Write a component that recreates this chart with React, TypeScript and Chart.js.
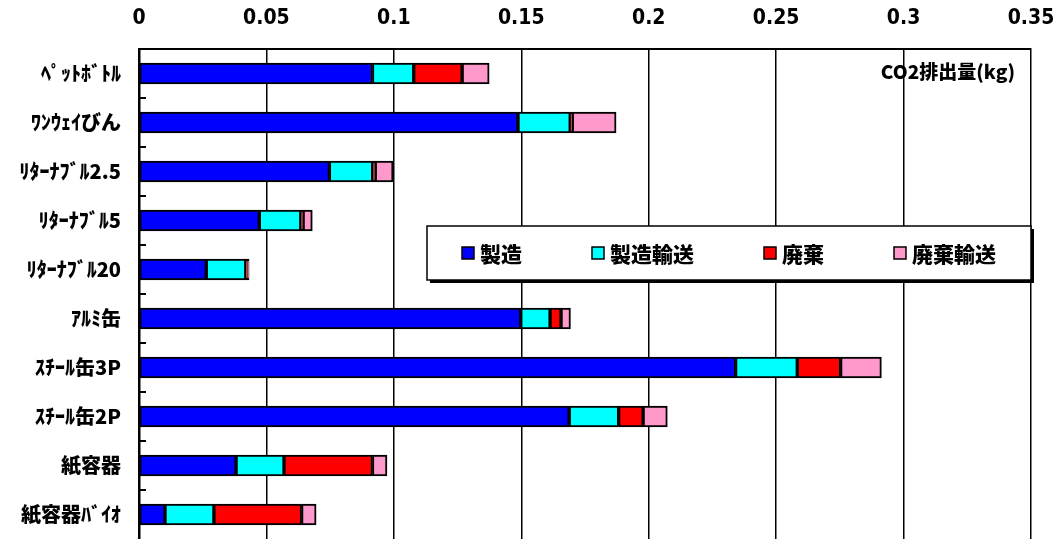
import React, { useEffect, useRef } from "react";
import { Chart, registerables } from "chart.js";

Chart.register(...registerables);

const categories = [
  "ﾍﾟｯﾄﾎﾞﾄﾙ",
  "ﾜﾝｳｪｲびん",
  "ﾘﾀｰﾅﾌﾞﾙ2.5",
  "ﾘﾀｰﾅﾌﾞﾙ5",
  "ﾘﾀｰﾅﾌﾞﾙ20",
  "ｱﾙﾐ缶",
  "ｽﾁｰﾙ缶3P",
  "ｽﾁｰﾙ缶2P",
  "紙容器",
  "紙容器ﾊﾞｲｵ",
];

const seriesNames = ["製造", "製造輸送", "廃棄", "廃棄輸送"];

const manufacturing = [0.0916, 0.1487, 0.0747, 0.0472, 0.0264, 0.1498, 0.2341, 0.1688, 0.0381, 0.0102];
const manufacturingTransport = [0.0162, 0.0205, 0.017, 0.0163, 0.0155, 0.0115, 0.0242, 0.0194, 0.0188, 0.0192];
const disposal = [0.019, 0.0008, 0.001, 0.0009, 0.0005, 0.0043, 0.017, 0.0096, 0.0347, 0.0344];
const disposalTransport = [0.0106, 0.0172, 0.007, 0.0036, 0.0008, 0.0037, 0.016, 0.0095, 0.0057, 0.0057];

const xTickValues = [0, 0.05, 0.1, 0.15, 0.2, 0.25, 0.3, 0.35];
const unitLabel = "CO2排出量(kg)";

const colors = ["#0000FF", "#00FFFF", "#FF0000", "#FF99CC"];

const JP_FONT = "'Noto Sans CJK JP', 'Noto Sans', sans-serif";
const NUM_FONT = "'Liberation Sans Narrow', 'DejaVu Sans Condensed', 'Liberation Sans', Arial, sans-serif";

const decorPlugin = {
  id: "decor",
  afterDraw(chart: any) {
    const ctx = chart.ctx;
    const area = chart.chartArea;
    const yScale = chart.scales.y;
    ctx.save();
    // inside tick marks at category boundaries
    ctx.strokeStyle = "#000";
    ctx.lineWidth = 2;
    const n = chart.data.labels.length;
    for (let i = 0; i < n - 1; i++) {
      const y = Math.round((yScale.getPixelForTick(i) + yScale.getPixelForTick(i + 1)) / 2);
      ctx.beginPath();
      ctx.moveTo(area.left, y);
      ctx.lineTo(area.left + 7, y);
      ctx.stroke();
    }
    // unit label
    ctx.fillStyle = "#000";
    ctx.font = "900 19px " + JP_FONT;
    ctx.textAlign = "right";
    ctx.textBaseline = "middle";
    ctx.fillText(unitLabel, 1015, 72);

    // legend box
    const bx = 427, by = 226, bw = 604, bh = 54;
    ctx.fillStyle = "#000";
    ctx.fillRect(bx + 3, by + 3, bw, bh);
    ctx.fillStyle = "#fff";
    ctx.fillRect(bx, by, bw, bh);
    ctx.strokeStyle = "#000";
    ctx.lineWidth = 1.5;
    ctx.strokeRect(bx, by, bw, bh);

    ctx.font = "900 21px " + JP_FONT;
    ctx.textAlign = "left";
    const box = 12, gapBox = 6, gapItem = 70;
    const ds = chart.data.datasets;
    const widths = ds.map((d: any) => box + gapBox + ctx.measureText(d.label).width);
    const total = widths.reduce((a: number, b: number) => a + b, 0) + gapItem * (ds.length - 1);
    let x = bx + bw / 2 - total / 2;
    const cy = by + bh / 2;
    ds.forEach((d: any, i: number) => {
      ctx.fillStyle = d.backgroundColor;
      ctx.fillRect(x, cy - box / 2, box, box);
      ctx.strokeStyle = "#000";
      ctx.lineWidth = 1.5;
      ctx.strokeRect(x, cy - box / 2, box, box);
      ctx.fillStyle = "#000";
      ctx.fillText(d.label, x + box + gapBox, cy + 1);
      x += widths[i] + gapItem;
    });
    ctx.restore();
  },
};

export default function App() {
  const ref = useRef<HTMLCanvasElement>(null);
  useEffect(() => {
    if (!ref.current) return;
    const series = [manufacturing, manufacturingTransport, disposal, disposalTransport];
    const chart = new Chart(ref.current, {
      type: "bar",
      data: {
        labels: categories,
        datasets: series.map((s, i) => ({
          label: seriesNames[i],
          data: s,
          backgroundColor: colors[i],
          borderColor: "#000",
          borderWidth: 2,
          borderSkipped: false,
          barThickness: 21,
        })),
      },
      options: {
        indexAxis: "y",
        responsive: false,
        animation: false,
        layout: { padding: { left: 0, top: 0, right: 22, bottom: 0 } },
        plugins: { legend: { display: false }, tooltip: { enabled: false } },
        scales: {
          x: {
            position: "top",
            stacked: true,
            min: 0,
            max: 0.35,
            afterBuildTicks: (scale: any) => {
              scale.ticks = xTickValues.map((v) => ({ value: v }));
            },
            afterFit: (scale: any) => {
              scale.height = 49;
              scale.paddingLeft = 0;
              scale.paddingRight = 0;
              scale.paddingTop = 0;
              scale.paddingBottom = 0;
            },
            grid: { color: "#000", lineWidth: 1.5, drawTicks: false },
            border: { display: true, color: "#000", width: 2 },
            ticks: {
              color: "#000",
              padding: 18,
              font: { family: NUM_FONT, size: 21, weight: "bold" },
              callback: (v: any) => String(Number(v)),
            },
          },
          y: {
            stacked: true,
            afterFit: (scale: any) => {
              scale.width = 139;
              scale.paddingLeft = 0;
              scale.paddingRight = 0;
              scale.paddingTop = 0;
              scale.paddingBottom = 0;
            },
            grid: { display: false, drawTicks: false },
            border: { display: true, color: "#000", width: 2.5 },
            ticks: {
              color: "#000",
              padding: 18,
              font: { family: JP_FONT, size: 20, weight: "900" },
            },
          },
        },
      },
      plugins: [decorPlugin],
    } as any);
    return () => chart.destroy();
  }, []);
  return (
    <div style={{ position: "absolute", left: 0, top: 0, width: 1053, height: 539, background: "#fff" }}>
      <canvas ref={ref} width={1053} height={539} style={{ display: "block" }} />
    </div>
  );
}
